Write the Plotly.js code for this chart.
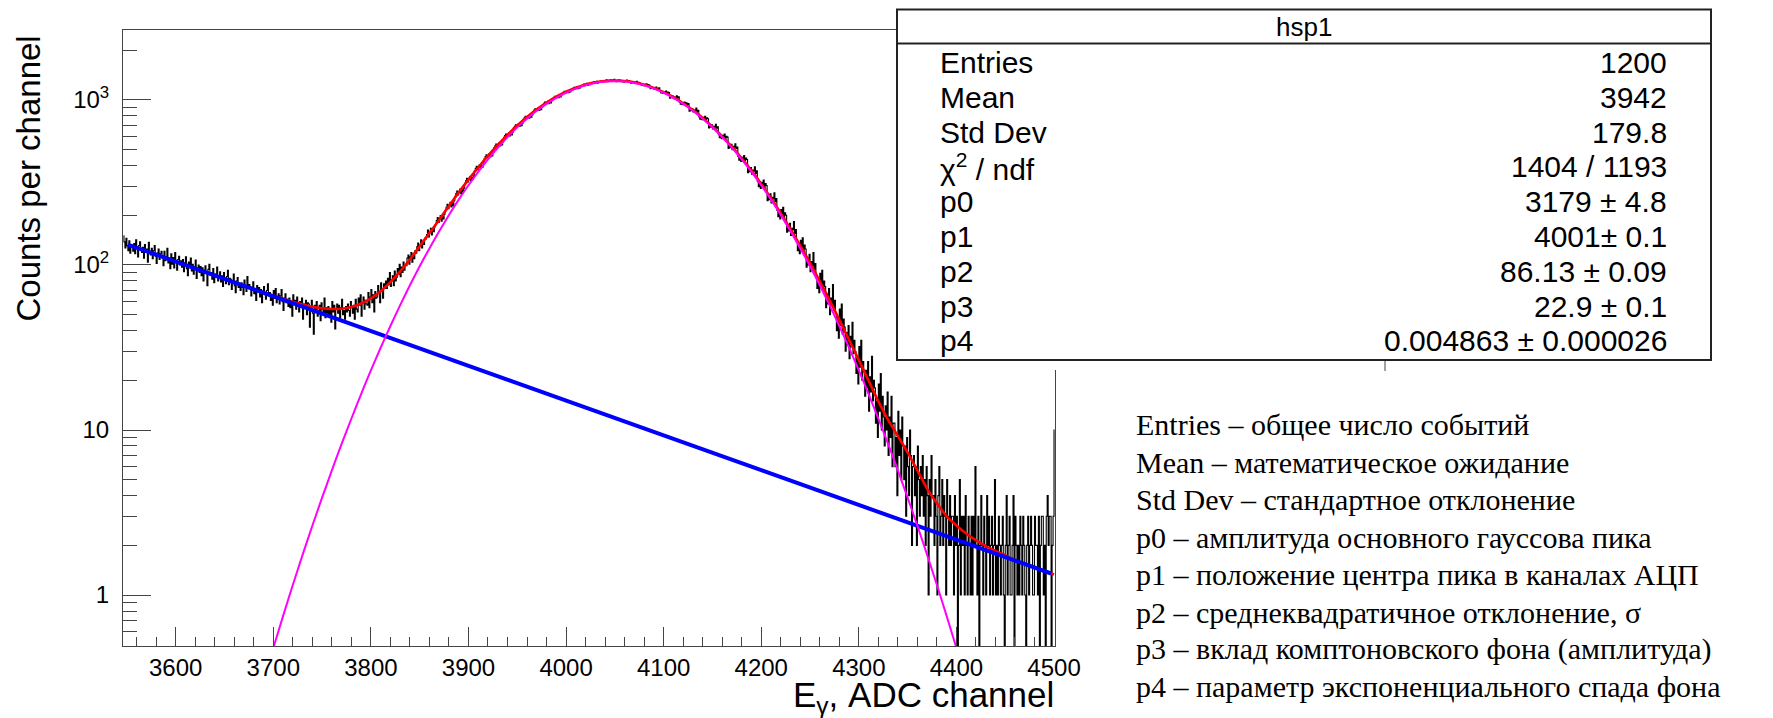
<!DOCTYPE html>
<html>
<head>
<meta charset="utf-8">
<script src="https://cdn.plot.ly/plotly-3.0.1.min.js"></script>
<style>html,body{margin:0;padding:0;background:#fff;}#chart{width:1773px;height:718px;}</style>
</head>
<body>
<div id="chart"></div>
<script>
// ---------------- data ----------------
// histogram: counts per 1-channel bin, first bin starts at channel 3546
const firstChannel = 3546;
const counts = [
150,138,127,145,131,122,140,118,133,129,
121,135,117,142,126,112,131,138,124,119,
128,110,133,119,125,104,137,121,115,126,
109,122,131,113,102,118,125,108,117,121,
114,99,121,106,112,126,103,110,95,117,
101,111,96,119,104,93,108,113,100,106,
97,108,91,103,112,95,86,104,99,110,
92,101,88,97,107,83,95,100,90,98,
86,96,80,93,99,89,75,94,101,87,
90,82,95,78,88,84,97,80,86,91,
79,86,74,90,81,77,85,93,76,83,
82,71,79,88,75,68,80,84,73,77,
70,78,73,66,81,75,69,85,72,76,
74,65,70,79,67,72,61,75,69,73,
64,71,59,68,74,66,62,70,77,65,
68,61,66,57,70,63,72,59,64,67,
58,65,71,60,53,63,67,59,62,56,
63,55,60,49,66,58,61,54,64,57,
52,60,56,63,47,58,55,61,50,59,
58,42,55,61,51,38,57,53,60,49,
52,57,46,59,54,50,63,48,55,51,
56,49,53,45,60,52,57,41,54,58,
51,57,48,55,62,50,53,47,56,52,
58,53,49,60,55,51,57,47,62,54,
52,63,57,66,49,59,64,54,61,58,
57,68,55,64,71,59,66,52,69,63,
64,75,68,59,78,70,63,77,72,80,
72,83,76,90,74,81,86,75,92,80,
84,95,88,101,85,97,90,104,93,99,
99,110,115,101,112,119,104,116,109,122,
118,129,136,122,131,142,127,138,133,145,
144,153,163,148,158,167,152,164,159,170,
176,186,194,181,191,199,184,197,190,203,
214,224,233,219,230,240,225,237,229,245,
261,271,281,266,278,288,270,285,276,292,
313,324,335,318,331,342,322,339,330,347,
372,385,396,378,392,404,383,400,391,409,
440,454,466,447,461,474,451,469,458,480,
514,528,541,521,536,550,526,545,533,556,
594,608,622,600,617,631,605,626,613,637,
678,693,708,684,703,717,690,712,698,724,
764,779,795,770,790,804,776,799,785,811,
852,868,884,858,879,894,864,889,873,900,
938,955,971,945,966,982,950,976,960,989,
1019,1036,1053,1026,1048,1064,1031,1058,1042,1071,
1094,1111,1129,1100,1123,1140,1106,1134,1117,1147,
1160,1177,1194,1166,1188,1205,1171,1199,1182,1211,
1215,1232,1249,1221,1243,1260,1226,1254,1237,1265,
1255,1271,1288,1260,1282,1299,1265,1293,1276,1303,
1280,1296,1312,1285,1306,1323,1290,1317,1300,1327,
1298,1321,1305,1334,1310,1289,1318,1302,1327,1300,
1315,1291,1308,1280,1312,1297,1320,1286,1305,1299,
1265,1290,1272,1284,1258,1279,1296,1262,1281,1270,
1250,1228,1241,1219,1246,1232,1255,1224,1238,1229,
1170,1193,1178,1186,1161,1180,1197,1168,1175,1184,
1128,1103,1119,1095,1122,1110,1134,1099,1116,1108,
1025,1048,1032,1055,1018,1041,1036,1060,1029,1044,
968,944,960,935,957,972,948,962,939,951,
856,879,861,885,847,870,864,892,853,866,
790,765,782,758,786,772,797,761,779,770,
676,701,683,707,668,692,685,712,674,688,
615,590,606,583,610,597,621,586,603,595,
508,531,514,538,500,523,517,542,506,519,
455,431,447,424,450,438,461,428,444,436,
362,384,367,390,355,376,370,394,359,372,
320,298,313,291,317,305,327,294,311,303,
245,264,249,270,238,257,251,274,242,253,
214,196,209,190,217,201,224,193,207,200,
158,173,161,179,151,167,163,183,155,164,
138,122,133,117,141,127,146,120,132,125,
97,110,100,116,91,105,99,119,94,102,
86,72,81,68,89,76,93,70,80,74,
55,67,58,72,50,63,57,76,53,61,
51,40,48,36,54,43,58,38,47,42,
30,39,33,43,27,37,32,45,29,35,
30,22,27,19,32,24,35,20,26,23,
16,23,18,26,13,21,17,28,15,20,
18,11,15,9,19,13,22,10,16,12,
8,14,10,17,7,12,9,16,6,11,
11,6,9,4,13,7,10,5,12,8,
5,8,3,9,6,4,10,7,2,6,
7,4,6,2,8,5,3,6,4,7,
3,5,2,6,4,1,5,3,7,4,
4,2,5,3,1,4,6,2,3,5,
2,4,3,1,5,3,2,4,2,3,
3,1,4,2,3,0,2,5,1,3,
2,3,1,4,2,1,3,2,1,3,
1,3,2,6,2,1,3,0,2,4,
2,1,3,2,1,4,2,3,1,2,
3,1,2,5,1,2,1,3,2,1,
2,3,1,0,2,4,1,2,3,1,
1,2,4,0,3,2,1,2,1,3,
2,1,3,2,1,0,2,3,1,2,
3,2,1,1,3,2,2,1,3,0,
2,3,3,1,2,0,3,4,2,3,
3,0,2,3,10
];

// total fit (red), read every 10 channels from 3700 to 4500
const fitStart = 3700;
const fitTotal = [
65.2,62.4,59.9,57.7,55.9,54.7,54.1,54.3,55.6,58.4,
62.8,69.4,78.8,91.5,108,130,156,188,228,275,
329,390,459,534,615,701,788,877,964,1046,
1121,1186,1241,1280,1304,1312,1303,1278,1237,1182,
1115,1039,955,868,778,689,602,520,443,373,
310,254,206,165,131,103,79.7,61.2,46.6,35.2,
26.5,19.9,14.9,11.5,9.2,7.3,5.7,4.4,3.6,3.0,
2.64,2.36,2.15,1.98,1.85,1.74,1.62,1.54,1.47,1.40,1.33
];

// gaussian peak component (magenta), read every 10 channels, 3695..4405
const gaussX = [3695,3700,3710,3720,3730,3740,3750,3760,3770,3780,3790,3800,3810,3820,3830,3840,3850,3860,3870,3880,3890,3900,3910,3920,3930,3940,3950,3960,3970,3980,3990,4000,4010,4020,4030,4040,4050,4060,4070,4080,4090,4100,4110,4120,4130,4140,4150,4160,4170,4180,4190,4200,4210,4220,4230,4240,4250,4260,4270,4280,4290,4300,4310,4320,4330,4340,4350,4360,4370,4380,4390,4400,4405];
const gaussY = [0.38,0.477,0.745,1.15,1.75,2.63,3.89,5.69,8.24,11.7,16.5,23.0,31.5,42.7,57.1,75.4,98.3,126,160,201,249,304,367,437,513,595,682,770,860,947,1030,1106,1172,1227,1267,1292,1300,1292,1267,1227,1172,1106,1030,947,860,770,682,595,513,437,367,304,249,201,160,126,98.3,75.4,57.1,42.7,31.5,23.0,16.5,11.7,8.24,5.69,3.89,2.63,1.75,1.15,0.745,0.477,0.38];

// exponential background component (blue)
const bgX = [3551,3600,3700,3800,3900,4000,4100,4200,4300,4400,4497];
const bgY = [133,105,64.7,39.8,24.5,15.1,9.29,5.71,3.52,2.16,1.35];

// axis ticks
const yMajorVals = [1,10,100,1000];
const yMajorText = ['1','10','10<sup>2</sup>','10<sup>3</sup>'];
const yMinorVals = [0.6,0.7,0.8,0.9,2,3,4,5,6,7,8,9,20,30,40,50,60,70,80,90,200,300,400,500,600,700,800,900,2000];

// statistics box
const statTitle = 'hsp1';
const statNames = ['Entries','Mean','Std Dev','χ<sup>2</sup> / ndf','p0','p1','p2','p3','p4'];
const statValues = ['1200','3942','179.8','1404 / 1193','3179 ± 4.8','4001± 0.1','86.13 ± 0.09','22.9 ± 0.1','0.004863 ± 0.000026'];

// explanation lines
const notes = [
 'Entries – общее число событий',
 'Mean – математическое ожидание',
 'Std Dev – стандартное отклонение',
 'p0 – амплитуда основного гауссова пика',
 'p1 – положение центра пика в каналах АЦП',
 'p2 – среднеквадратичное отклонение, σ',
 'p3 – вклад комптоновского фона (амплитуда)',
 'p4 – параметр экспоненциального спада фона'
];

// ---------------- drawing ----------------
const L = 123, T = 30, W = 932, H = 616;
const px = v => (v - L) / W;
const py = v => (T + H - v) / H;
const SANS = 'Liberation Sans, Arial, Helvetica, sans-serif';
const SERIF = 'Liberation Serif, Times New Roman, serif';
const AX = '#444';

const histX = counts.map((c, i) => firstChannel + i + 0.5);
const histY = counts.map(c => c > 0 ? c : 0.01);
const fitX = fitTotal.map((v, i) => fitStart + 10 * i);

const traces = [
  {x: histX, y: histY, type: 'scatter', mode: 'lines', line: {shape: 'hvh', color: '#000', width: 1.1}, hoverinfo: 'skip'},
  {x: fitX, y: fitTotal, type: 'scatter', mode: 'lines', line: {shape: 'spline', smoothing: 0.6, color: '#ff0000', width: 2.6}, hoverinfo: 'skip'},
  {x: bgX, y: bgY, yaxis: 'y2', type: 'scatter', mode: 'lines', line: {color: '#0000ff', width: 4}, hoverinfo: 'skip'},
  {x: gaussX, y: gaussY, yaxis: 'y2', type: 'scatter', mode: 'lines', line: {shape: 'spline', smoothing: 0.6, color: '#ff00ff', width: 2}, hoverinfo: 'skip'}
];

const yRange = [-0.309, 3.424];

const shapes = [
  {type: 'rect', xref: 'paper', yref: 'paper', x0: px(896), x1: px(1712), y0: py(8), y1: py(370), fillcolor: '#fff', line: {width: 0}, layer: 'above'},
  {type: 'rect', xref: 'paper', yref: 'paper', x0: px(897), x1: px(1711), y0: py(9.5), y1: py(360), fillcolor: 'rgba(0,0,0,0)', line: {color: '#222', width: 2}, layer: 'above'},
  {type: 'line', xref: 'paper', yref: 'paper', x0: px(897), x1: px(1711), y0: py(43.5), y1: py(43.5), line: {color: '#222', width: 2}, layer: 'above'},
  {type: 'line', xref: 'paper', yref: 'paper', x0: px(1385), x1: px(1385), y0: py(361), y1: py(371), line: {color: AX, width: 1}, layer: 'above'}
];

const annotations = [];
annotations.push({xref: 'paper', yref: 'paper', x: px(1303.5), y: py(26.5), text: statTitle, showarrow: false, xanchor: 'center', yanchor: 'middle', font: {family: SANS, size: 26, color: '#000'}});
statNames.forEach((n, i) => {
  const yc = 62.5 + 34.8 * i;
  annotations.push({xref: 'paper', yref: 'paper', x: px(938), y: py(yc), text: n, showarrow: false, xanchor: 'left', yanchor: 'middle', font: {family: SANS, size: 30, color: '#000'}});
  annotations.push({xref: 'paper', yref: 'paper', x: px(1669), y: py(yc), text: statValues[i], showarrow: false, xanchor: 'right', yanchor: 'middle', font: {family: SANS, size: 30, color: '#000'}});
});
notes.forEach((t, i) => {
  annotations.push({xref: 'paper', yref: 'paper', x: px(1134), y: py(425 + 37.4 * i), text: t, showarrow: false, xanchor: 'left', yanchor: 'middle', font: {family: SERIF, size: 30, color: '#000'}});
});
annotations.push({xref: 'paper', yref: 'paper', x: px(27.5), y: py(179), text: 'Counts per channel', textangle: -90, showarrow: false, xanchor: 'center', yanchor: 'middle', font: {family: SANS, size: 33, color: '#000'}});
annotations.push({xref: 'paper', yref: 'paper', x: px(1056), y: py(697), text: 'E<sub>γ</sub>, ADC channel', showarrow: false, xanchor: 'right', yanchor: 'middle', font: {family: SANS, size: 35, color: '#000'}});

const layout = {
  width: 1773, height: 718,
  margin: {l: L, r: 1773 - L - W, t: T, b: 718 - T - H, pad: 0},
  paper_bgcolor: '#fff', plot_bgcolor: '#fff',
  showlegend: false,
  xaxis: {
    range: [3546, 4501], showgrid: false, zeroline: false,
    showline: true, mirror: true, linecolor: AX, linewidth: 1,
    ticks: 'inside', ticklen: 19, tickwidth: 1, tickcolor: AX,
    tick0: 3600, dtick: 100,
    tickfont: {family: SANS, size: 24, color: '#000'},
    minor: {tick0: 3600, dtick: 20, ticks: 'inside', ticklen: 9, tickwidth: 1, tickcolor: AX, showgrid: false}
  },
  yaxis: {
    type: 'log', range: yRange, showgrid: false, zeroline: false,
    showline: true, mirror: true, linecolor: AX, linewidth: 1,
    ticks: 'inside', ticklen: 28, tickwidth: 1, tickcolor: AX,
    tickmode: 'array', tickvals: yMajorVals, ticktext: yMajorText,
    tickfont: {family: SANS, size: 24, color: '#000'},
    ticklabelstandoff: 8
  },
  yaxis2: {
    type: 'log', range: yRange, overlaying: 'y', anchor: 'x', side: 'left',
    showgrid: false, zeroline: false, showline: false,
    ticks: 'inside', ticklen: 14, tickwidth: 1, tickcolor: AX,
    tickmode: 'array', tickvals: yMinorVals, showticklabels: false
  },
  shapes: shapes,
  annotations: annotations
};

Plotly.newPlot('chart', traces, layout, {staticPlot: true, displayModeBar: false});
</script>
</body>
</html>
